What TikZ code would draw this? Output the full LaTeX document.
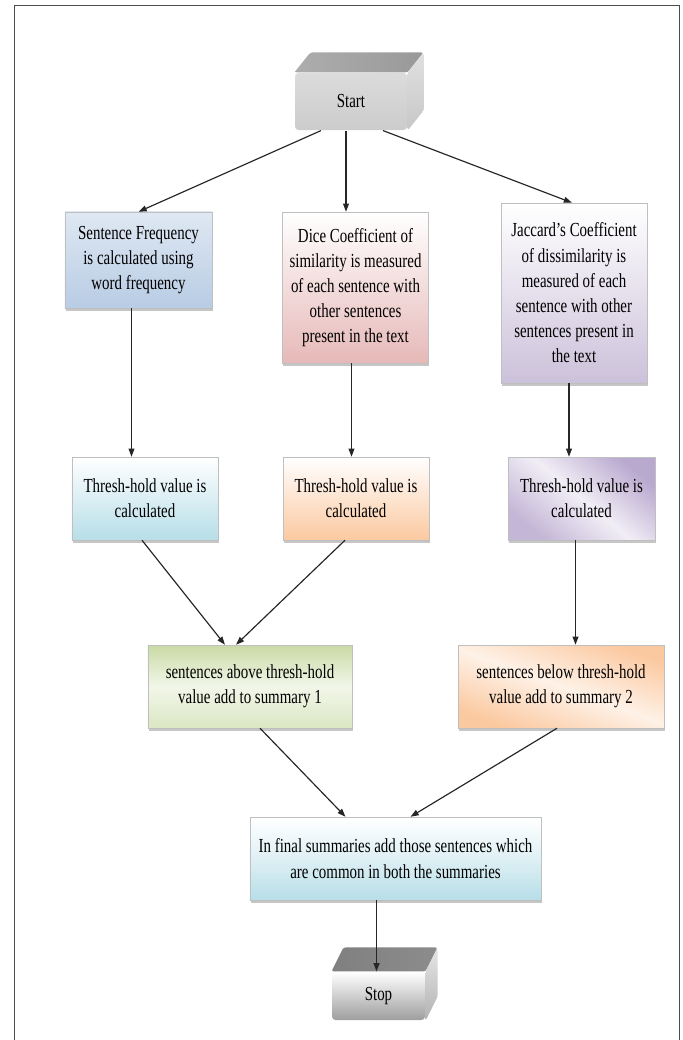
\documentclass[tikz,border=0pt]{standalone}
\usepackage{fontspec}
\setmainfont[FakeStretch=0.75]{Liberation Serif}
\usetikzlibrary{arrows.meta,shadows}

\definecolor{sfreqB}{HTML}{B8CCE4}
\definecolor{diceB}{HTML}{E6B9B8}
\definecolor{jaccB}{HTML}{CCC1DA}
\definecolor{cyanB}{HTML}{B7DEE8}
\definecolor{peachB}{HTML}{FBC9A0}
\definecolor{lavB}{HTML}{B9A9CF}
\definecolor{greenB}{HTML}{C3D69B}

\begin{document}
\begin{tikzpicture}
[x=0.03cm, y=-0.03cm, font=\fontsize{17}{21.5}\selectfont, line width=1pt,
process/.style={rectangle, draw=black!25, line width=0.4pt, align=center, inner sep=0pt,
    drop shadow={shadow xshift=0.6pt, shadow yshift=-2.2pt, opacity=0.45}},
terminal/.style={rectangle, rounded corners=3pt, align=center, inner sep=0pt},
face/.style={draw=none, rounded corners=2pt},
flow/.style={draw=black!85, -{Triangle[length=7pt,width=5pt]}}]

\useasboundingbox (0,0) rectangle (683,1040);
\draw[black!70, line width=0.8pt] (14,1040) |- (679,5) -- (679,1040);

% start block
\node[terminal, top color=black!14, bottom color=black!20,
    minimum width=3.36cm, minimum height=1.71cm] (start) at (351, 101.5) {Start};
\draw[face, left color=black!32, right color=black!40]
    (start.north west) -- ([shift={(16,-20)}]start.north west)
    -- ([shift={(16,-20)}]start.north east) -- (start.north east) -- cycle;
\draw[face, top color=black!12, bottom color=black!22]
    (start.north east) -- ([shift={(16,-20)}]start.north east)
    -- ([shift={(16,-20)}]start.south east) -- (start.south east) -- cycle;

% first row
\node[process, top color=sfreqB!45, bottom color=sfreqB,
    minimum width=4.41cm, minimum height=2.88cm] (sfreq) at (138.5, 260)
    {Sentence Frequency\\is calculated using\\word frequency};
\node[process, top color=white, bottom color=diceB,
    minimum width=4.38cm, minimum height=4.53cm] (dice) at (355.5, 287.5)
    {Dice Coefficient of\\similarity is measured\\of each sentence with\\other sentences\\present in the text};
\node[process, top color=white, bottom color=jaccB,
    minimum width=4.38cm, minimum height=5.4cm] (jacc) at (574, 293)
    {Jaccard's Coefficient\\of dissimilarity is\\measured of each\\sentence with other\\sentences present in\\the text};

% thresh-hold row
\node[process, top color=white, bottom color=cyanB,
    minimum width=4.38cm, minimum height=2.49cm] (th1) at (145, 498.5)
    {Thresh-hold value is\\calculated};
\node[process, top color=white, bottom color=peachB,
    minimum width=4.38cm, minimum height=2.49cm] (th2) at (356, 498.5)
    {Thresh-hold value is\\calculated};
\node[process, top color=lavB, bottom color=lavB!85, middle color=white!80!lavB, shading angle=-40,
    minimum width=4.41cm, minimum height=2.49cm] (th3) at (581.5, 498.5)
    {Thresh-hold value is\\calculated};

% summaries
\node[process, top color=greenB!90, bottom color=greenB!60, middle color=greenB!22,
    minimum width=6.12cm, minimum height=2.49cm] (above) at (250, 686.5)
    {sentences above thresh-hold\\value add to summary 1};
\node[process, top color=peachB, bottom color=peachB, middle color=white!75!peachB, shading angle=-20,
    minimum width=6.18cm, minimum height=2.49cm] (below) at (561, 686.5)
    {sentences below thresh-hold\\value add to summary 2};
\node[process, top color=white, bottom color=cyanB, middle color=cyanB!45,
    minimum width=8.73cm, minimum height=2.49cm] (final) at (395.5, 858.5)
    {In final summaries add those sentences which\\are common in both the summaries};

% stop block
\node[terminal, top color=white, bottom color=black!38,
    minimum width=2.79cm, minimum height=1.44cm] (stop) at (378.5, 996) {Stop};
\draw[face, left color=black!50, right color=black!45]
    (stop.north west) -- ([shift={(12,-24)}]stop.north west)
    -- ([shift={(12,-24)}]stop.north east) -- (stop.north east) -- cycle;
\draw[face, top color=black!10, bottom color=black!30]
    (stop.north east) -- ([shift={(12,-24)}]stop.north east)
    -- ([shift={(12,-24)}]stop.south east) -- (stop.south east) -- cycle;

\draw[flow] ([shift={(-30,0)}]start.south) -- (sfreq.north);
\draw[flow] ([shift={(-5,0)}]start.south) -- ([shift={(-5,0)}]start.south |- dice.north);
\draw[flow] ([shift={(32,0)}]start.south) -- ([shift={(-2,0)}]jacc.north);

\draw[flow] ([shift={(-7,0)}]sfreq.south) -- ([shift={(-7,0)}]sfreq.south |- th1.north);
\draw[flow] ([shift={(-4,0)}]dice.south) -- ([shift={(-4,0)}]dice.south |- th2.north);
\draw[flow] ([shift={(-5,0)}]jacc.south) -- ([shift={(-5,0)}]jacc.south |- th3.north);

\draw[flow] ([shift={(-3,0)}]th1.south) -- ([shift={(-25,0)}]above.north);
\draw[flow] ([shift={(-11,0)}]th2.south) -- ([shift={(-14,0)}]above.north);
\draw[flow] ([shift={(-6,0)}]th3.south) -- ([shift={(-6,0)}]th3.south |- below.north);

\draw[flow] ([shift={(10,0)}]above.south) -- ([shift={(-50,0)}]final.north);
\draw[flow] ([shift={(-4,0)}]below.south) -- ([shift={(15,0)}]final.north);
\draw[flow] ([shift={(-19,0)}]final.south) -- ([shift={(-19,0)}]final.south |- stop.north);

\end{tikzpicture}
\end{document}
